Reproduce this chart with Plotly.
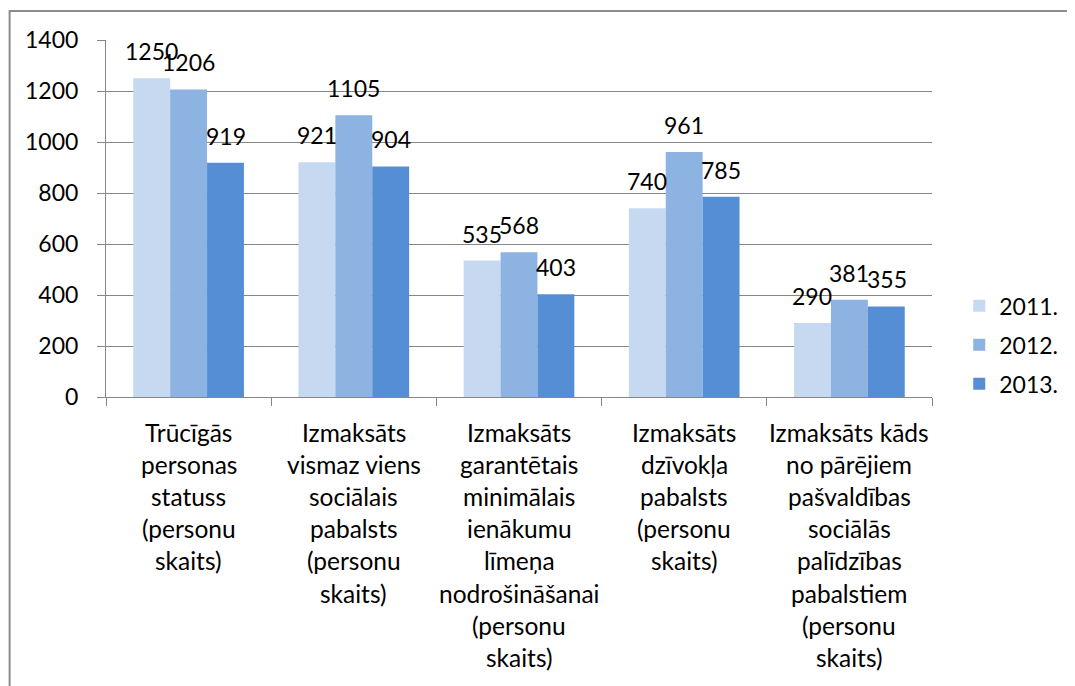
import plotly.graph_objects as go

categories = [
    "Trūcīgās personas statuss (personu skaits)",
    "Izmaksāts vismaz viens sociālais pabalsts (personu skaits)",
    "Izmaksāts garantētais minimālais ienākumu līmeņa nodrošināšanai (personu skaits)",
    "Izmaksāts dzīvokļa pabalsts (personu skaits)",
    "Izmaksāts kāds no pārējiem pašvaldības sociālās palīdzības pabalstiem (personu skaits)",
]
category_lines = [
    ["Trūcīgās", "personas", "statuss", "(personu", "skaits)"],
    ["Izmaksāts", "vismaz viens", "sociālais", "pabalsts", "(personu", "skaits)"],
    ["Izmaksāts", "garantētais", "minimālais", "ienākumu", "līmeņa", "nodrošināšanai", "(personu", "skaits)"],
    ["Izmaksāts", "dzīvokļa", "pabalsts", "(personu", "skaits)"],
    ["Izmaksāts kāds", "no pārējiem", "pašvaldības", "sociālās", "palīdzības", "pabalstiem", "(personu", "skaits)"],
]
series_names = ["2011.", "2012.", "2013."]
values_2011 = [1250, 921, 535, 740, 290]
values_2012 = [1206, 1105, 568, 961, 381]
values_2013 = [919, 904, 403, 785, 355]
colors = ["#C6D9F1", "#8DB3E2", "#558ED5"]
y_ticks = [0, 200, 400, 600, 800, 1000, 1200, 1400]

FONT = "Lato"
FS_NUM = 23
FS_TXT = 24.5

W, H = 1067, 678
ML, MR, MT, MB = 98, 138, 32, 289
BARGAP = 0.33
plot_w = W - ML - MR
cat_px = plot_w / len(categories)
bar_px = cat_px * (1 - BARGAP) / len(series_names)

all_values = [values_2011, values_2012, values_2013]

fig = go.Figure()
for name, vals, col in zip(series_names, all_values, colors):
    fig.add_trace(go.Bar(
        x=categories, y=vals, name=name, legendgroup=name,
        marker=dict(color=col, line=dict(width=0)),
    ))

annotations = []
# data labels (Excel "outside end" style)
for k, vals in enumerate(all_values):
    for cat, v in zip(categories, vals):
        annotations.append(dict(
            x=cat, xref="x", y=v, yref="y", xanchor="center", yanchor="bottom",
            text=str(v), showarrow=False,
            xshift=(k - (len(series_names) - 1) / 2) * bar_px, yshift=11,
            font=dict(family=FONT, size=FS_NUM, color="#000000"),
        ))
# wrapped category labels
for cat, lines in zip(categories, category_lines):
    for i, ln in enumerate(lines):
        annotations.append(dict(
            x=cat, xref="x", y=0, yref="paper", yanchor="middle", xanchor="center",
            text=ln, showarrow=False, yshift=-(35 + i * 32.2),
            font=dict(family=FONT, size=FS_TXT, color="#000000"),
        ))

fig.update_layout(
    width=W, height=H,
    margin=dict(l=ML, r=MR, t=MT, b=MB),
    paper_bgcolor="white", plot_bgcolor="white",
    barmode="group", bargap=BARGAP, bargroupgap=0,
    font=dict(family=FONT, size=FS_NUM, color="#000000"),
    showlegend=True,
    legend=dict(x=1.033, xanchor="left", y=0.146, yanchor="middle",
                font=dict(family=FONT, size=FS_NUM, color="#000000"),
                tracegroupgap=6, bgcolor="rgba(0,0,0,0)"),
    annotations=annotations,
    shapes=[dict(type="rect", xref="paper", yref="paper",
                 x0=-0.1167, x1=1.2, y0=-0.85, y1=1.081,
                 line=dict(color="#8C8C8C", width=2), fillcolor="rgba(0,0,0,0)",
                 layer="below")],
)
fig.update_xaxes(
    type="category", showticklabels=False, tickson="boundaries",
    ticks="outside", ticklen=8, tickcolor="#868686",
    showline=True, linecolor="#868686", linewidth=1,
    showgrid=False, zeroline=False,
)
fig.update_yaxes(
    range=[0, 1400], tickvals=y_ticks, ticktext=[str(v) for v in y_ticks],
    ticks="outside", ticklen=8, tickcolor="#868686", ticklabelstandoff=14,
    showline=True, linecolor="#868686", linewidth=1,
    showgrid=True, gridcolor="#868686", gridwidth=1, zeroline=False,
    tickfont=dict(family=FONT, size=FS_NUM, color="#000000"),
)

fig.write_html("out.html")
